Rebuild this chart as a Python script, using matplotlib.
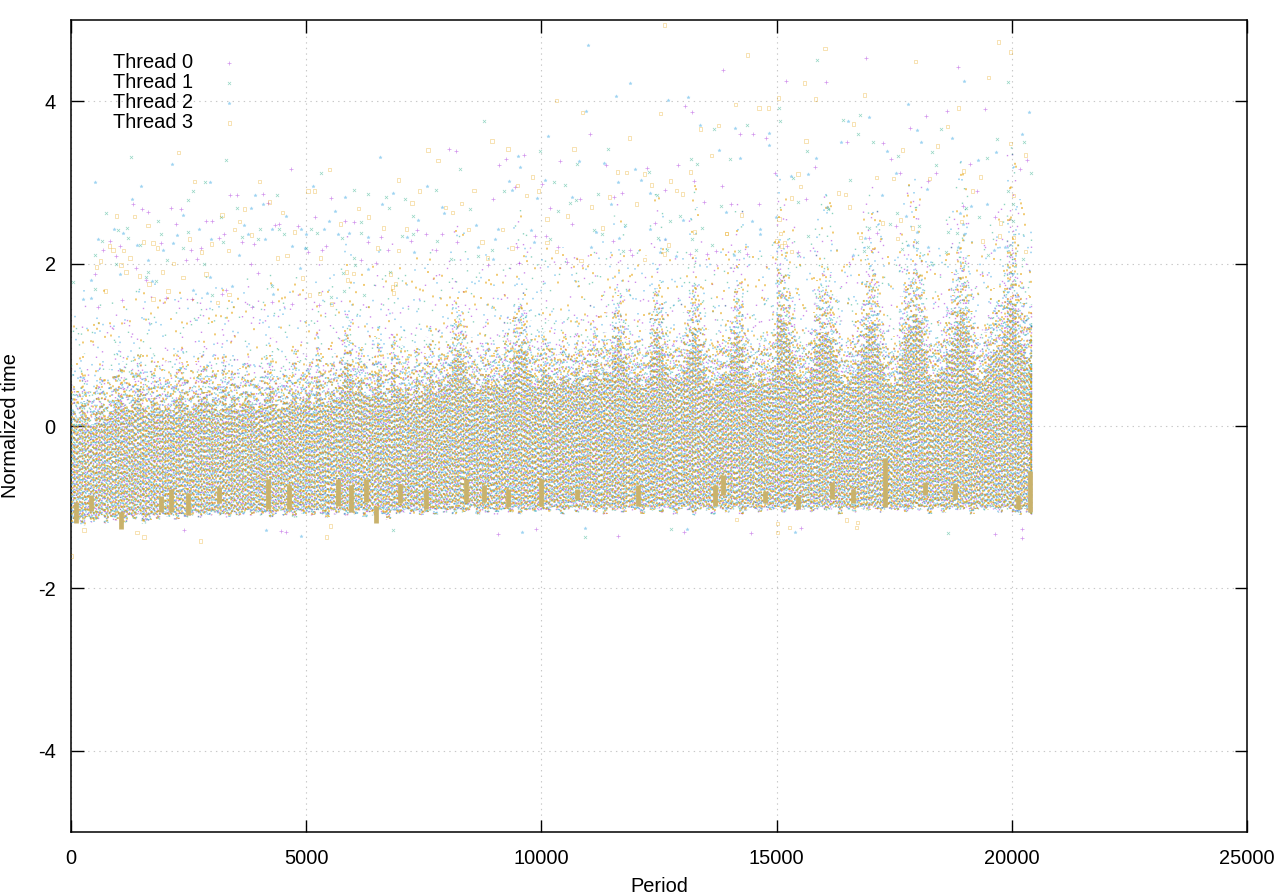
import matplotlib
matplotlib.use("Agg")
import matplotlib.pyplot as plt

plt.rcParams['font.family'] = ['Liberation Sans', 'DejaVu Sans']
plt.rcParams['axes.unicode_minus'] = False
plt.rcParams['lines.scale_dashes'] = False

# outliers, (period, normalized time) per thread
thread0_x = [4684,3388,3536,4089,5535,1325,1517,1644,2133,2346,4195,2877,3005,5195,2239,4344,4429,5833,6024,4833,3260,3154,836,6598,6322,1921,1049,3643,3898,687,2558,2771,6747,5429,5344,5046,964,2452,2686,6173,6492,3834,3983,517,1389,1602,3217,3302,2027,2580,1091,4280,581,4706,3855,5280,
             13868,13061,13209,11041,8043,8192,9637,9255,9106,10403,11381,12912,12253,13252,10020,13847,9446,11721,12636,8978,10828,11551,10190,13464,10658,12423,7363,7554,7894,7235,8213,9871,11530,10105,9489,7766,10360,11891,11934,13719,13167,13528,10538,9531,8872,
             16908,18864,15207,16058,19438,18630,18184,17844,14229,14506,14782,16504,17270,17440,20331,19119,15824,20182,17631,18396,14973,18226,19268,15633,14038,14633,19651,17546,17142,15462,14378,16972,15229,18970,
             4571,4465,9085,9893,2410,11636,13039,14464,19652,20226,20226,15527]
thread0_y = [3.17,2.84,2.85,2.86,2.81,2.74,2.67,2.63,2.69,2.67,2.75,2.53,2.52,2.58,2.49,2.48,2.49,2.52,2.51,2.46,2.37,2.32,2.28,2.33,2.26,2.25,2.22,2.27,2.24,2.17,2.17,2.19,2.17,2.22,2.17,2.14,2.09,2.05,2.06,2.05,2.01,1.99,1.89,1.87,1.94,1.80,1.63,1.67,1.58,1.57,1.55,1.53,1.47,1.50,1.47,1.49,
             4.39,3.94,3.87,3.60,3.41,3.39,3.34,3.29,3.21,3.26,3.21,3.22,3.18,3.02,2.98,2.96,2.94,2.87,2.91,2.79,2.80,2.82,2.69,2.76,2.49,2.50,2.41,2.37,2.37,2.28,2.26,2.34,2.28,2.34,2.20,2.17,2.20,2.17,2.10,2.15,2.12,2.12,2.02,2.01,1.98,
             4.53,4.42,4.25,4.24,3.91,3.88,3.82,3.67,3.60,3.59,3.55,3.50,3.49,3.29,3.27,3.23,3.19,3.17,3.11,3.11,3.11,3.02,2.90,2.80,2.74,2.73,2.58,2.46,2.38,2.14,2.12,2.31,2.22,2.71,
             -1.31,-1.29,-1.33,-1.27,-1.28,-1.36,-1.30,-1.32,-1.33,-1.38,-1.27,-1.26]

thread1_x = [1283,3302,2856,5322,2601,6024,6322,4387,2495,6704,3536,6768,751,3196,1857,6173,1198,1006,2495,4025,4429,5110,1921,4536,5237,6173,1219,666,3643,3983,5769,1474,3239,2388,5003,505,6024,2048,964,2835,6045,1644,5790,6789,1602,50,1814,4280,517,5811,3005,6237,5535,
             8787,13677,11424,9977,13188,10764,13316,8277,12295,10275,10509,7766,9212,11211,12465,10743,10615,7107,13826,8489,10360,7277,12954,12742,11785,13422,11126,11296,7044,7263,7788,10190,12487,13209,8957,13634,11742,12678,8659,8085,13294,
             15867,19927,15058,16781,16419,15080,14378,18503,16738,19693,17057,20268,15654,18311,17588,14017,19481,18396,20416,15356,16568,19927,15462,20034,19034,16100,17567,19311,20034,17419,18035,16972,18651,18843,15675,17992,16951,17674,16865,18609,19502,20246,14208,
             10935,6853,12763,18652]
thread1_y = [3.31,3.27,3.01,3.11,2.90,2.91,2.86,2.85,2.78,2.82,2.69,2.68,2.62,2.58,2.52,2.51,2.44,2.41,2.39,2.43,2.42,2.42,2.37,2.36,2.38,2.38,2.32,2.28,2.33,2.30,2.32,2.23,2.26,2.19,2.19,2.10,2.07,2.05,1.99,1.99,1.98,1.90,1.88,1.90,1.83,1.77,1.78,1.72,1.69,1.66,1.61,1.61,1.59,
             3.75,3.66,3.41,3.39,3.29,3.23,3.23,3.16,3.13,3.00,2.97,2.91,2.89,2.86,2.84,2.78,2.75,2.79,2.71,2.67,2.65,2.59,2.59,2.53,2.47,2.44,2.41,2.37,2.34,2.36,2.28,2.30,2.32,2.30,2.17,2.23,2.15,2.17,2.09,2.06,2.17,
             4.51,4.24,3.92,3.83,3.77,3.75,3.71,3.66,3.59,3.53,3.50,3.50,3.39,3.38,3.32,3.29,3.30,3.22,3.11,3.06,3.03,2.89,2.76,2.74,2.68,2.67,2.62,2.57,2.53,2.49,2.46,2.44,2.39,2.38,2.34,2.27,2.21,2.18,2.15,2.14,2.10,2.06,2.15,
             -1.37,-1.28,-1.27,-1.32]

thread2_x = [2154,6577,517,2962,1495,5152,6853,3919,1304,5833,4089,3834,6619,5620,2388,4578,5492,3685,921,1113,2729,4280,4897,5386,2261,5003,5918,5684,581,2984,3770,4132,6322,1410,2176,4706,1963,4982,3579,1644,4876,1049,6322,432,2962,1729,3430,2601,2899,4302,432,262,
             10998,11891,11593,12699,13124,10956,13380,10148,13783,9510,10807,11339,9552,11997,10084,12125,11636,7575,9318,9382,12317,10658,9914,11487,7894,7937,13932,7384,13018,8617,9085,9786,11168,12317,7150,9850,9021,11657,12636,8659,11062,7299,12529,8978,12869,
             18992,17801,20374,16972,16526,14123,17992,14846,18737,20225,16377,18078,14846,17355,19672,15845,14229,19289,17546,15314,15675,18205,17248,19481,19140,16079,18907,17759,14987,14484,18970,14654,14654,17992,18992,16887,18226,17801,18864,19863,19630,16632,14102,
             4897,9596,4153,15400,13103,10935]
thread2_y = [3.23,3.31,3.00,3.00,2.96,2.95,2.87,2.85,2.79,2.82,2.73,2.69,2.74,2.65,2.60,2.59,2.52,2.48,2.42,2.38,2.42,2.42,2.43,2.43,2.35,2.36,2.38,2.37,2.30,2.30,2.36,2.30,2.33,2.23,2.25,2.22,2.17,2.19,2.10,2.05,1.94,1.87,1.93,1.80,1.84,1.78,1.73,1.68,1.64,1.63,1.58,1.56,
             4.69,4.23,4.07,4.01,4.05,3.88,3.71,3.57,3.40,3.33,3.26,3.24,3.19,3.17,3.03,3.03,3.01,2.95,3.02,2.91,2.87,2.82,2.81,2.74,2.70,2.62,2.63,2.54,2.54,2.48,2.42,2.41,2.39,2.43,2.33,2.27,2.30,2.31,2.30,2.20,2.21,2.14,2.14,2.06,2.09,
             4.25,3.96,3.87,3.81,3.76,3.67,3.65,3.61,3.55,3.60,3.50,3.50,3.46,3.39,3.38,3.30,3.30,3.28,3.11,3.08,3.10,2.92,2.85,2.73,2.71,2.70,2.62,2.59,2.58,2.52,2.49,2.43,2.37,2.39,2.37,2.31,2.21,2.23,2.20,2.20,2.17,2.10,2.10,
             -1.36,-1.31,-1.28,-1.30,-1.27,-1.26]

thread3_x = [2282,2622,4004,5492,6959,5032,5173,4217,3685,964,1347,3217,4493,6109,6322,3579,1644,5726,6640,3473,4748,3834,2516,1538,1750,2984,815,1836,900,1113,3345,6513,6959,2771,4599,4387,5301,1254,624,2176,539,1070,1176,1942,1453,2877,2388,4918,5854,6003,5875,6789,6896,1665,6832,730,2069,3366,5067,5280,6853,1750,3111,5535,
             12614,10318,10871,12529,13380,13762,8957,11870,7596,9297,10700,7809,13613,9808,11615,11806,12189,13167,9489,12338,12742,7412,8574,9935,9680,11445,12869,12997,7256,8298,12019,7958,11062,8107,10126,10552,7129,8447,9170,11296,13252,13932,8744,10126,9382,10318,12699,8851,10849,12189,12614,
             19715,16036,14378,17950,19970,19502,15590,16866,15037,15824,14123,14633,14825,18864,18630,16632,15632,17674,18418,19970,20289,18970,15462,17121,17482,19332,18248,15505,16313,16462,19162,15314,16547,14251,15058,17631,17248,18928,19757,17886,20034,13932,15080,19736,20034,16781,17567,19375,14995,15165,15101,20289,15314,
             0,2750,1559,1410,5514,5429,283,15017,15017,15272,16696,16718,16484,14145]
thread3_y = [3.37,3.01,3.01,3.16,3.03,2.89,2.89,2.76,2.67,2.59,2.58,2.60,2.63,2.68,2.57,2.52,2.47,2.49,2.44,2.42,2.39,2.35,2.30,2.27,2.25,2.24,2.22,2.19,2.17,2.16,2.16,2.19,2.16,2.14,2.10,2.07,2.07,2.07,2.03,2.00,1.96,1.98,1.90,1.90,1.85,1.87,1.83,1.82,1.90,1.88,1.80,1.87,1.75,1.75,1.71,1.66,1.66,1.62,1.61,1.63,1.64,1.56,1.52,1.50,
             4.94,4.01,3.86,3.85,3.66,3.70,3.51,3.55,3.40,3.41,3.41,3.27,3.33,3.07,3.13,3.12,3.10,3.13,2.96,2.97,3.02,2.89,2.90,2.89,2.84,2.82,2.90,2.86,2.75,2.74,2.73,2.69,2.70,2.63,2.55,2.59,2.43,2.42,2.42,2.44,2.39,2.37,2.27,2.26,2.19,2.15,2.23,2.07,2.04,2.05,2.12,
             4.73,4.65,4.57,4.49,4.61,4.29,4.22,4.08,4.04,4.03,3.96,3.92,3.92,3.92,3.69,3.72,3.51,3.40,3.45,3.48,3.34,3.14,3.10,3.06,3.05,3.07,3.05,2.95,2.87,2.85,2.89,2.81,2.70,2.60,2.55,2.54,2.50,2.52,2.50,2.44,2.84,2.37,2.37,2.34,2.32,2.32,2.31,2.28,2.28,2.26,2.22,2.15,2.15,
             -1.60,-1.42,-1.37,-1.31,-1.23,-1.37,-1.28,-1.20,-1.31,-1.25,-1.25,-1.19,-1.16,-1.15]

# the dense cloud is too thick to read point by point: upper and lower edge per 100 periods
cloud_period = list(range(0, 20401, 100))
cloud_top = [0.7,0.6,0.9,0.6,0.5,0.7,0.8,0.6,0.7,0.9,
             1.0,0.8,0.7,0.9,1.1,0.8,0.7,0.9,0.8,0.7,
             0.8,0.7,0.9,1.0,0.8,0.7,0.8,0.9,1.0,0.8,
             0.9,0.7,1.1,0.8,0.9,0.7,0.8,1.0,0.8,0.7,
             0.8,0.9,1.1,0.8,0.7,0.9,0.8,1.0,0.8,0.9,
             1.0,0.8,1.2,0.9,0.8,1.0,0.9,1.1,1.5,1.3,
             1.0,1.2,1.0,0.9,1.1,1.3,1.0,0.9,1.4,1.1,
             1.0,1.1,0.9,1.2,1.0,1.1,1.3,1.0,1.2,1.1,
             1.3,1.6,1.7,1.5,1.2,1.1,1.0,1.1,1.3,1.1,
             1.2,1.1,1.4,1.3,1.6,1.8,1.7,1.3,1.1,1.2,
             1.4,1.3,1.2,1.1,1.3,1.2,1.1,1.4,1.2,1.1,
             1.3,1.5,1.2,1.4,1.3,1.7,1.9,1.6,1.3,1.2,
             1.3,1.1,1.2,1.6,2.0,1.8,1.4,1.2,1.3,1.2,
             1.4,1.7,2.1,1.8,1.4,1.2,1.1,1.2,1.3,1.3,
             1.6,2.0,1.8,1.4,1.2,1.1,1.3,1.2,1.2,1.4,
             2.3,2.2,1.9,1.6,1.3,1.2,1.2,1.4,1.8,2.0,
             2.0,1.9,1.6,1.3,1.1,1.2,1.3,1.5,1.8,2.1,
             2.2,1.8,1.5,1.2,1.1,1.2,1.6,2.0,2.1,2.3,
             2.2,1.7,1.3,1.2,1.3,1.4,1.7,1.9,2.2,2.4,
             2.1,1.7,1.3,1.2,1.4,1.6,1.7,1.8,2.0,2.6,
             2.5,1.9,1.8,1.6,1.5]
cloud_low = [-1.20,-1.15,-1.22,-1.12,-1.18,-1.14,-1.10,-1.20,-1.12,-1.16,
             -1.12,-1.18,-1.10,-1.14,-1.08,-1.20,-1.16,-1.10,-1.14,-1.08,
             -1.12,-1.10,-1.14,-1.08,-1.12,-1.10,-1.06,-1.12,-1.08,-1.10,
             -1.06,-1.10,-1.08,-1.12,-1.06,-1.10,-1.08,-1.04,-1.10,-1.06,
             -1.10,-1.06,-1.12,-1.08,-1.04,-1.10,-1.06,-1.12,-1.04,-1.08,
             -1.06,-1.10,-1.04,-1.08,-1.12,-1.04,-1.08,-1.04,-1.10,-1.06,
             -1.08,-1.04,-1.12,-1.06,-1.10,-1.04,-1.08,-1.14,-1.04,-1.08,
             -1.06,-1.02,-1.08,-1.04,-1.10,-1.06,-1.04,-1.08,-1.02,-1.06,
             -1.04,-1.08,-1.02,-1.06,-1.04,-1.00,-1.08,-1.04,-1.06,-1.02,
             -1.08,-1.04,-1.02,-1.06,-1.00,-1.08,-1.04,-1.02,-1.06,-1.04,
             -1.02,-1.06,-1.00,-1.04,-1.08,-1.02,-1.00,-1.06,-1.02,-1.04,
             -1.00,-1.06,-1.02,-1.08,-1.00,-1.04,-1.02,-1.06,-1.00,-1.04,
             -1.02,-1.08,-1.00,-1.04,-1.02,-1.06,-1.00,-1.02,-1.08,-1.02,
             -1.00,-1.04,-1.10,-1.02,-1.00,-1.04,-1.08,-1.00,-1.02,-1.06,
             -1.02,-1.00,-1.08,-1.04,-1.00,-1.02,-1.06,-1.00,-1.04,-1.02,
             -1.00,-1.06,-1.02,-1.00,-1.04,-1.02,-1.00,-1.06,-1.02,-1.00,
             -1.04,-1.02,-1.00,-1.08,-1.00,-1.02,-1.06,-1.00,-1.02,-1.04,
             -1.00,-1.02,-1.06,-1.00,-1.02,-1.04,-1.00,-1.06,-1.02,-1.00,
             -1.04,-1.00,-1.08,-1.02,-1.00,-1.06,-1.02,-1.00,-1.04,-1.02,
             -1.00,-1.08,-1.02,-1.00,-1.04,-1.00,-1.02,-1.06,-1.00,-1.02,
             -1.06,-1.10,-1.02,-1.06,-1.08]

# gold streaks along the lower edge
streak_period = [106,420,1063,1913,2126,2480,3150,4181,4642,5670,5953,6272,6485,7000,7548,8398,8788,9300,9993,10750,12061,13691,13850,14754,15463,16172,16633,17306,18156,18800,20140,20389]
streak_low = [-1.19,-1.05,-1.27,-1.06,-1.06,-1.10,-0.95,-1.02,-1.02,-0.98,-1.06,-0.94,-1.19,-0.95,-1.02,-0.94,-0.94,-1.00,-0.98,-0.90,-0.98,-0.98,-0.85,-0.95,-1.02,-0.90,-0.95,-1.00,-0.85,-0.90,-1.02,-1.06]
streak_high = [-0.94,-0.85,-1.06,-0.86,-0.78,-0.82,-0.75,-0.65,-0.73,-0.65,-0.73,-0.65,-0.98,-0.72,-0.77,-0.65,-0.73,-0.78,-0.65,-0.77,-0.73,-0.73,-0.60,-0.80,-0.86,-0.69,-0.77,-0.40,-0.69,-0.70,-0.86,-0.55]

thread_names = ['Thread 0', 'Thread 1', 'Thread 2', 'Thread 3']
thread_colors = ['#9400d3', '#009e73', '#56b4e9', '#e69f00']
thread_markers = ['+', 'x', '*', 's']
thread_xs = [thread0_x, thread1_x, thread2_x, thread3_x]
thread_ys = [thread0_y, thread1_y, thread2_y, thread3_y]
thread_shifts = [[0, 33, 66], [8, 41, 74], [16, 49, 82], [25, 58, 91]]
thread_width = [1.0, 1.0, 1.1, 1.4]
thread_alpha = [0.45, 0.45, 0.65, 0.55]

# uneven gaps (in points) so the dots of neighbouring columns do not line up
dense_gaps = [(2.7, 3.9, 3.2), (4.1, 2.6, 3.5), (3.3, 3.0, 4.4), (2.9, 4.3, 2.5), (3.8, 3.4, 2.8), (3.0, 2.7, 4.0), (4.5, 3.1, 2.6)]
mid_gaps = [(8.3, 11.1, 6.9), (12.7, 7.1, 9.3), (7.6, 13.2, 8.0), (10.9, 6.7, 12.1), (6.5, 9.2, 11.7)]
thin_gaps = [(24, 41, 17), (33, 19, 52), (44, 27, 20), (18, 58, 30), (38, 23, 47)]
halo_gaps = [(87, 129, 61), (103, 63, 167), (141, 89, 64), (62, 181, 101), (127, 86, 153)]


def dash_styles(gaps, width, n, seed):
    # quadratic offset, a linear one shows up as diagonal rows
    styles = []
    for k in range(n):
        g = gaps[(k + seed) % len(gaps)]
        styles.append((((k + seed) * (k + seed) * 1.37) % sum(g), (width, g[0], width, g[1], width, g[2])))
    return styles


fig = plt.figure(figsize=(12.8, 8.96), dpi=100)
ax = fig.add_axes([71/1280, 1 - 832/896, 1176/1280, 812/896])

ax.set_axisbelow(True)
ax.grid(True, linestyle=(0, (1, 3)), linewidth=0.8, color='#c8c8c8')

n = len(cloud_period)
zone_dense = [cloud_low[k] + 0.72 * (cloud_top[k] - cloud_low[k]) for k in range(n)]
zone_mid = [cloud_low[k] + 0.9 * (cloud_top[k] - cloud_low[k]) for k in range(n)]
zone_halo = [cloud_top[k] + 0.9 for k in range(n)]

for i in range(4):
    w = thread_width[i]
    for j, shift in enumerate(thread_shifts[i]):
        xs = [min(p + shift, 20400) for p in cloud_period]
        seed = 11 * i + 29 * j
        ax.vlines(xs, cloud_low, zone_dense, color=thread_colors[i], linewidth=w, alpha=thread_alpha[i],
                  linestyles=dash_styles(dense_gaps, w, n, seed), zorder=2 + i)
        ax.vlines(xs, zone_dense, zone_mid, color=thread_colors[i], linewidth=w, alpha=thread_alpha[i],
                  linestyles=dash_styles(mid_gaps, w, n, seed), zorder=2 + i)
        ax.vlines(xs, zone_mid, cloud_top, color=thread_colors[i], linewidth=w, alpha=thread_alpha[i],
                  linestyles=dash_styles(thin_gaps, w, n, seed), zorder=2 + i)
        ax.vlines(xs, cloud_top, zone_halo, color=thread_colors[i], linewidth=w, alpha=thread_alpha[i],
                  linestyles=dash_styles(halo_gaps, w, n, seed), zorder=2 + i)

ax.vlines(streak_period, streak_low, streak_high, color='#c9b26c', linewidth=3.4, zorder=6)

for i in range(4):
    is_square = thread_markers[i] == 's'
    ax.scatter(thread_xs[i], thread_ys[i], s=7 if is_square else 5, marker=thread_markers[i],
               linewidths=0.7 if is_square else 0.5,
               facecolors='none' if is_square else thread_colors[i],
               edgecolors=thread_colors[i], alpha=0.3 if is_square else 0.42,
               label=thread_names[i], zorder=7)

ax.set_xlim(0, 25000)
ax.set_ylim(-5, 5)
ax.set_xticks([0, 5000, 10000, 15000, 20000, 25000])
ax.set_yticks([-4, -2, 0, 2, 4])
ax.tick_params(direction='in', length=9, width=1, top=True, right=True, labelsize=14.4)
ax.tick_params(axis='x', pad=12.5)
ax.tick_params(axis='y', pad=11)
ax.set_xlabel('Period', fontsize=14.4, labelpad=6.5)
ax.set_ylabel('Normalized time', fontsize=14.4)
ax.yaxis.set_label_coords(-0.0434, 0.5)
for side in ax.spines.values():
    side.set_linewidth(1.1)

ax.legend(loc='upper left', bbox_to_anchor=(0.0275, 0.9713), frameon=False, fontsize=14.4, markerfirst=False,
          labelspacing=0.045, handlelength=1.6, handletextpad=1.0, borderpad=0, scatterpoints=1)

fig.savefig('out.png', dpi=100)
